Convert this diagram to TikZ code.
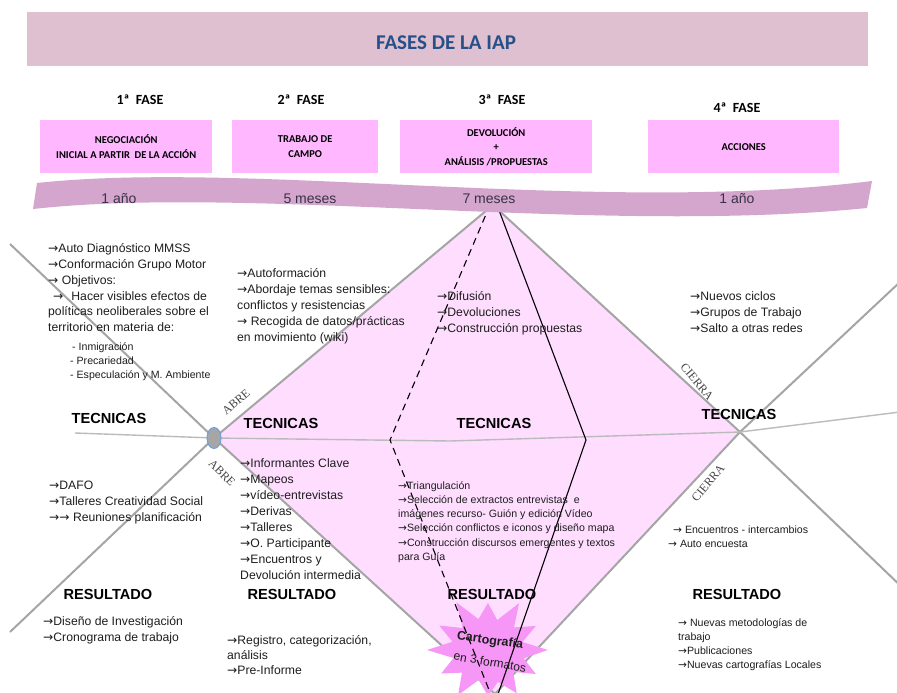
\documentclass[tikz,border=0pt]{standalone}
\usepackage{fontspec}
\setmainfont{Liberation Sans}
\newfontfamily\carl{Carlito}
\newfontfamily\lserif{Liberation Serif}
\newfontfamily\dvs{DejaVu Sans}
\usetikzlibrary{shapes.geometric}
\definecolor{bannerc}{RGB}{223,192,209}
\definecolor{titleblue}{RGB}{38,80,135}
\definecolor{boxpink}{RGB}{255,183,255}
\definecolor{bandc}{RGB}{212,166,206}
\definecolor{bandtxt}{RGB}{55,50,70}
\definecolor{diamc}{RGB}{255,221,255}
\definecolor{starc}{RGB}{246,150,246}
\definecolor{linegray}{RGB}{165,165,165}
\definecolor{ovalgray}{RGB}{166,166,166}
\definecolor{ovalblue}{RGB}{110,160,215}
\definecolor{txtc}{RGB}{30,30,30}
\definecolor{sidetxt}{RGB}{70,70,70}
\newcommand\fbody{\fontsize{12.2}{16}\selectfont}
\newcommand\fsmall{\fontsize{10.6}{14.3}\selectfont}
\newcommand\fhead{\fontsize{14.6}{17}\selectfont\bfseries}
\newcommand\stA{\rule{0pt}{12pt}}
\newcommand\stB{\rule{0pt}{10.6pt}}
\newcommand\myarr{{\dvs\char"2192}}
\begin{document}
\begin{tikzpicture}[x=1pt,y=-1pt,
  gline/.style={draw=linegray, line width=2pt},
  hline/.style={draw=linegray!75, line width=1.4pt},
  bline/.style={draw=black, line width=1.1pt},
  dline/.style={bline, dash pattern=on 7pt off 5pt},
  blk/.style={anchor=north west, inner sep=0pt, align=left, text=txtc, font=\fbody},
  sblk/.style={anchor=north west, inner sep=0pt, align=left, text=txtc, font=\fsmall},
  head/.style={inner sep=0pt, font=\fhead, text=black},
  fase/.style={inner sep=0pt, font=\carl\bfseries\fontsize{14}{16}\selectfont},
  pbox/.style={fill=boxpink, draw=none, anchor=north west, inner sep=0pt, minimum height=53, align=center, font=\carl\bfseries\fontsize{10.5}{14.5}\selectfont},
  bandtext/.style={inner sep=0pt, font=\fontsize{14}{16}\selectfont, text=bandtxt},
  side/.style={inner sep=0pt, font=\lserif\fontsize{12}{14}\selectfont, text=sidetxt}]
\useasboundingbox (0,0) rectangle (897,693);
\fill[white] (0,0) rectangle (897,693);

% key points
\coordinate (VL) at (214,438);
\coordinate (T) at (493,205);
\coordinate (VR) at (740,432);
\coordinate (B) at (495,694);
\coordinate (ulA) at (10,244);
\coordinate (llA) at (10,632);
\coordinate (urA) at (900,282);
\coordinate (lrA) at (905,590);
\coordinate (hL) at (75,433);
\coordinate (hM) at (450,441);
\coordinate (hR) at (900,412);
\coordinate (dT) at (490,205);
\coordinate (dM) at (390,440);
\coordinate (dB) at (493,700);
\coordinate (sT) at (497,205);
\coordinate (sM) at (586,440);
\coordinate (sB) at (496,700);

% diamond
\fill[diamc] (VL) -- (T) -- (VR) -- (B) -- cycle;

% gray lines
\draw[gline] (ulA) -- (VL) -- (B);
\draw[gline] (llA) -- (VL) -- (T);
\draw[gline] (T) -- (VR) -- (lrA);
\draw[gline] (B) -- (VR) -- (urA);
\draw[hline] (hL) -- (VL) -- (hM) -- (VR) -- (hR);

% star
\begin{scope}[shift={(488,650)}, xscale=1.15]
\fill[starc] (0:52) -- (15:32) -- (30:48) -- (45:31) -- (60:50) -- (75:33) -- (90:46) -- (105:31) -- (120:52) -- (135:32) -- (150:47) -- (165:31) -- (180:53) -- (195:32) -- (210:49) -- (225:31) -- (240:55) -- (255:32) -- (270:47) -- (285:31) -- (300:54) -- (315:32) -- (330:48) -- (345:31) -- cycle;
\end{scope}

% black lines
\draw[dline] (dT) -- (dM) -- (dB);
\draw[bline] (sT) -- (sM) -- (sB);

% band
\fill[bandc] (37,183) .. controls (250,160) and (600,215) .. (872,181) -- (867,208) .. controls (600,235) and (250,185) .. (33,209) -- cycle;
\node[bandtext] (d1) at (119,199) {1 año};
\node[bandtext] (d2) at (310,199) {5 meses};
\node[bandtext] (d3) at (489,199) {7 meses};
\node[bandtext] (d4) at (737,199) {1 año};

% banner
\node[fill=bannerc, anchor=north west, inner sep=0pt, minimum width=841, minimum height=54] (banner) at (27,12) {};
\node[inner sep=0pt, text=titleblue, font=\carl\bfseries\fontsize{21}{24}\selectfont] (title) at (446,43) {FASES DE LA IAP};

% phase labels
\node[fase] (f1) at (140,100) {1ª\ \ FASE};
\node[fase] (f2) at (301,100) {2ª\ \ FASE};
\node[fase] (f3) at (502,100) {3ª\ \ FASE};
\node[fase] (f4) at (737,108) {4ª\ \ FASE};

% phase boxes
\node[pbox, minimum width=172] (b1) at (40,120) {NEGOCIACIÓN\\INICIAL A PARTIR\ \ DE LA ACCIÓN};
\node[pbox, minimum width=146] (b2) at (232,120) {TRABAJO DE\\CAMPO};
\node[pbox, minimum width=192] (b3) at (400,120) {DEVOLUCIÓN\\+\\ANÁLISIS /PROPUESTAS};
\node[pbox, minimum width=191] (b4) at (648,120) {ACCIONES};

% oval
\node[ellipse, draw=ovalblue, fill=ovalgray, line width=1pt, minimum width=14, minimum height=21, inner sep=0pt] (oval) at (VL) {};

% side labels
\node[side, rotate=40] (abre1) at (236,402) {ABRE};
\node[side, rotate=-45] (abre2) at (222,473) {ABRE};
\node[side, rotate=-50] (cierra1) at (697,382) {CIERRA};
\node[side, rotate=50] (cierra2) at (708,483) {CIERRA};

% headings
\node[head] (t1) at (109,418) {TECNICAS};
\node[head] (t2) at (281,423) {TECNICAS};
\node[head] (t3) at (494,423) {TECNICAS};
\node[head] (t4) at (739,414) {TECNICAS};
\node[head] (r1) at (108,594) {RESULTADO};
\node[head] (r2) at (292,594) {RESULTADO};
\node[head] (r3) at (492,594) {RESULTADO};
\node[head] (r4) at (737,594) {RESULTADO};

% text blocks
\node[blk, font=\fontsize{12.2}{15.8}\selectfont] (ta) at (48,240.4) {\stA\myarr Auto Diagnóstico MMSS\\\myarr Conformación Grupo Motor\\\myarr\ Objetivos:\\\hspace*{5pt}\myarr\hspace{8pt}Hacer visibles efectos de\\políticas neoliberales sobre el\\territorio en materia de:};
\node[sblk, font=\fontsize{10.6}{14}\selectfont] (tasub) at (70,339.2) {\stB\hspace*{2pt}- Inmigración\\- Precariedad\\- Especulación y M. Ambiente};
\node[blk] (tb) at (237,265.4) {\stA\myarr Autoformación\\\myarr Abordaje temas sensibles:\\conflictos y resistencias\\\myarr\ Recogida de datos/prácticas\\en movimiento (wiki)};
\node[blk] (tc) at (437,288.4) {\stA\myarr Difusión\\\myarr Devoluciones\\\myarr Construcción propuestas};
\node[blk] (td) at (690,288.4) {\stA\myarr Nuevos ciclos\\\myarr Grupos de Trabajo\\\myarr Salto a otras redes};
\node[blk] (te) at (49,477.4) {\stA\myarr DAFO\\\myarr Talleres Creatividad Social\\\myarr\myarr\ Reuniones planificación};
\node[blk] (tf) at (240,455.4) {\stA\myarr Informantes Clave\\\myarr Mapeos\\\myarr vídeo-entrevistas\\\myarr Derivas\\\myarr Talleres\\\myarr O. Participante\\\myarr Encuentros y\\Devolución intermedia};
\node[blk] (tg) at (43,613.4) {\stA\myarr Diseño de Investigación\\\myarr Cronograma de trabajo};
\node[blk, font=\fontsize{12.2}{15}\selectfont] (th) at (227,632.4) {\stA\myarr Registro, categorización,\\análisis\\\myarr Pre-Informe};
\node[sblk] (ti) at (398,478.2) {\stB\myarr Triangulación\\\myarr Selección de extractos entrevistas\ \ e\\imágenes recurso- Guión y edición Vídeo\\\myarr Selección conflictos e iconos y diseño mapa\\\myarr Construcción discursos emergentes y textos\\para Guía};
\node[sblk, font=\fontsize{10.6}{14}\selectfont] (tj) at (668,522.2) {\stB\hspace*{5pt}\myarr\ Encuentros - intercambios\\\myarr\ Auto encuesta};
\node[sblk] (tk) at (678,615.2) {\stB\myarr\ Nuevas metodologías de\\trabajo\\\myarr Publicaciones\\\myarr Nuevas cartografías Locales};

% star text
\node[inner sep=0pt, rotate=-8, font=\bfseries\fontsize{12.5}{14}\selectfont, text=txtc] (carto) at (490,641) {Cartografía};
\node[inner sep=0pt, rotate=-10, font=\fontsize{12}{14}\selectfont, text=txtc] (formatos) at (490,662) {en 3 formatos};
\end{tikzpicture}
\end{document}
